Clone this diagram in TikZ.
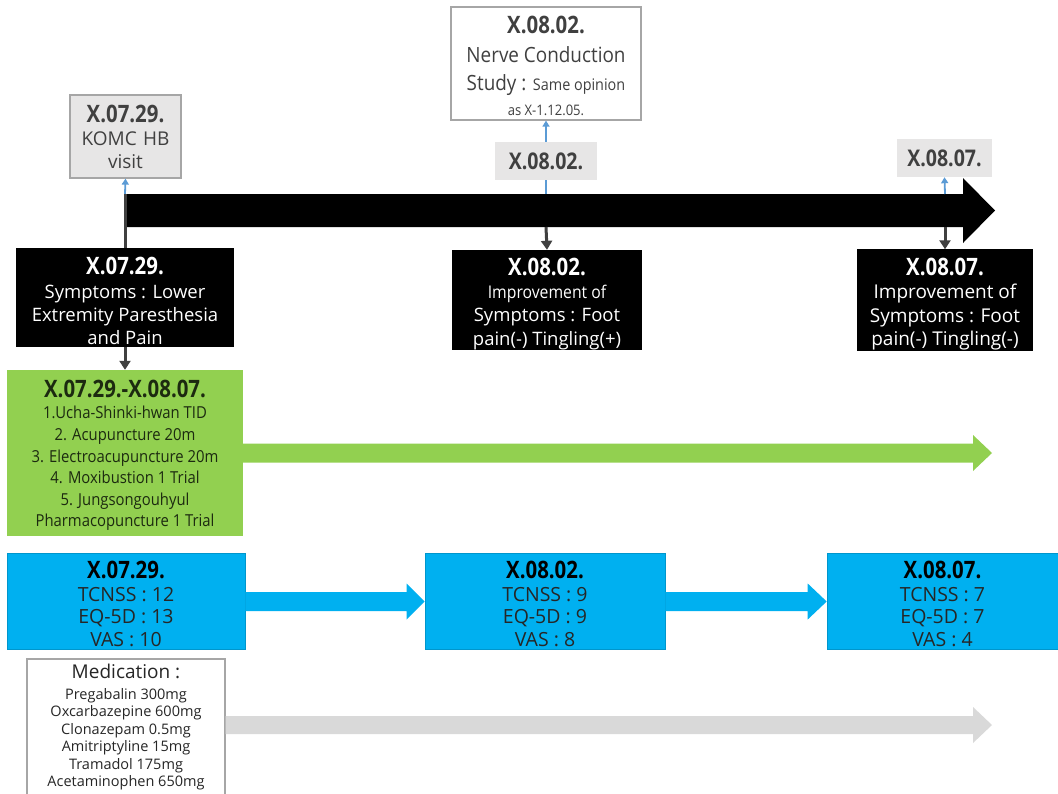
\documentclass[tikz,border=0pt]{standalone}
\usepackage{fontspec}
\setmainfont{Open Sans}
\newfontfamily\nar[FakeStretch=0.9]{Open Sans}
\newfontfamily\ttlf[FakeStretch=0.85]{Open Sans}
\usetikzlibrary{arrows.meta,calc}
\definecolor{cgreen}{HTML}{92D050}
\definecolor{cblue}{HTML}{00B0F0}
\definecolor{clabel}{HTML}{E7E6E6}
\definecolor{cborder}{HTML}{A6A6A6}
\definecolor{cdark}{HTML}{404040}
\definecolor{cthin}{HTML}{5B9BD5}
\definecolor{cgrayarrow}{HTML}{D9D9D9}
\definecolor{ctext}{HTML}{404040}
\definecolor{cbtext}{HTML}{262626}
\definecolor{cgtext}{HTML}{1C2A10}
\newcommand\ttl[2][0pt]{{\ttlf\bfseries\fontsize{24}{26}\selectfont\rule{0pt}{#1}#2}}
\begin{document}
\begin{tikzpicture}[x=1pt,y=-1pt,
  every node/.style={inner sep=0pt, align=center},
  graybox/.style={draw=cborder, fill=clabel, line width=1.2pt, text=ctext, font=\fontsize{19}{23}\selectfont},
  whitebox/.style={draw=cborder, fill=white, line width=1.2pt, text=ctext},
  blackbox/.style={fill=black, text=white, font=\fontsize{18.5}{23.3}\selectfont},
  greenbox/.style={fill=cgreen, text=cgtext, font=\nar\fontsize{16.5}{21.6}\selectfont},
  bluebox/.style={fill=cblue, draw=cblue!85!black, line width=0.6pt, text=cbtext, font=\fontsize{19.5}{22.5}\selectfont},
  labelbox/.style={fill=clabel, text=ctext},
  thinblue/.style={draw=cthin, line width=1.8pt},
  thinbluearrow/.style={thinblue, -{Triangle[length=6pt,width=7pt]}},
  darkline/.style={draw=cdark, line width=3pt},
  darkarrow/.style={darkline, -{Triangle[length=9pt,width=11pt]}}
]
\useasboundingbox (0,0) rectangle (1058,793);
\fill[white] (0,0) rectangle (1058,793);

% timeline arrow
\fill[black] (126,194) -- (963,194) -- (963,178) -- (995,210.5) -- (963,243) -- (963,227) -- (126,227) -- cycle;

% top row
\node[graybox, minimum width=111, minimum height=83] (komc) at (125.5,136.5)
  {\ttl{X.07.29.}\\KOMC\,\,HB\\visit};
\node[whitebox, minimum width=190, minimum height=113, font=\nar\fontsize{21}{28.5}\selectfont] (ncs) at (546,63.5)
  {\ttl[22pt]{X.08.02.}\\Nerve Conduction\\
   Study : {\fontsize{16}{20}\selectfont Same opinion}\\[-4pt]
   {\fontsize{14.5}{18}\selectfont as X-1.12.05.}};
\node[labelbox, minimum width=102, minimum height=38] (lbl2) at (546,161)
  {\ttlf\bfseries\fontsize{23}{24}\selectfont X.08.02.};
\node[labelbox, minimum width=95, minimum height=38] (lbl3) at (944.5,158)
  {\ttlf\bfseries\fontsize{23}{24}\selectfont X.08.07.};

% black boxes
\node[blackbox, minimum width=218, minimum height=99] (sym1) at (125,297.5)
  {\ttl[25pt]{X.07.29.}\\Symptoms : Lower\\Extremity Paresthesia\\and Pain};
\node[blackbox, minimum width=190, minimum height=100] (imp2) at (547,300)
  {\ttl[25pt]{X.08.02.}\\{\nar\fontsize{17.5}{23}\selectfont Improvement of}\\Symptoms : Foot\\pain(-) Tingling(+)};
\node[blackbox, minimum width=176, minimum height=100, font=\fontsize{19}{23.5}\selectfont] (imp3) at (945,300)
  {\ttl[26pt]{X.08.07.}\\Improvement of\\Symptoms : Foot\\pain(-) Tingling(-)};

% timeline connectors
\coordinate (t1) at (125,194);
\coordinate (t2) at (546,194);
\coordinate (t2b) at (546,227);
\coordinate (t3) at (945,194);
\coordinate (t3b) at (945,227);
\draw[thinbluearrow] (t1) -- (komc.south);
\draw[darkline] (t1) -- (sym1.north);
\draw[thinblue] (t2) -- (lbl2.south);
\draw[thinbluearrow] (lbl2.north) -- (ncs.south);
\draw[darkarrow] (t2b) -- (imp2.north);
\draw[thinbluearrow] (t3) -- (lbl3.south);
\draw[darkarrow] (t3b) -- (imp3.north);

% green treatment box
\node[greenbox, minimum width=236, minimum height=166] (green) at (125,453)
  {\ttl[22pt]{X.07.29.-X.08.07.}\\1.Ucha-Shinki-hwan TID\\2. Acupuncture 20m\\3. Electroacupuncture 20m\\4. Moxibustion 1 Trial\\5. Jungsongouhyul\\Pharmacopuncture 1 Trial};
\draw[darkarrow] (sym1.south) -- (green.north);
\fill[cgreen] ($(green.east)+(0,-9.5)$) -- (973,443.5) -- (973,435) -- (992,453) -- (973,471) -- (973,462.5) -- ($(green.east)+(0,9.5)$) -- cycle;

% blue score boxes
\node[bluebox, minimum width=238, minimum height=96] (bA) at (126,601.5)
  {\ttl[22pt]{\color{black}X.07.29.}\\TCNSS : 12\\EQ-5D : 13\\VAS : 10};
\node[bluebox, minimum width=240, minimum height=96] (bB) at (545,601.5)
  {\ttl[22pt]{\color{black}X.08.02.}\\TCNSS : 9\\EQ-5D : 9\\VAS : 8};
\node[bluebox, minimum width=231, minimum height=96] (bC) at (942.5,601.5)
  {\ttl[22pt]{\color{black}X.08.07.}\\TCNSS : 7\\EQ-5D : 7\\VAS : 4};
\fill[cblue] ($(bA.east)+(0,-9.5)$) -- ($(bB.west)+(-18,-9.5)$) -- ($(bB.west)+(-18,-18)$) -- (bB.west)
  -- ($(bB.west)+(-18,18)$) -- ($(bB.west)+(-18,9.5)$) -- ($(bA.east)+(0,9.5)$) -- cycle;
\fill[cblue] ($(bB.east)+(0,-9.5)$) -- ($(bC.west)+(-19,-9.5)$) -- ($(bC.west)+(-19,-18)$) -- (bC.west)
  -- ($(bC.west)+(-19,18)$) -- ($(bC.west)+(-19,9.5)$) -- ($(bB.east)+(0,9.5)$) -- cycle;

% medication
\node[whitebox, text=cbtext, minimum width=198, minimum height=137, font=\fontsize{14.5}{17.5}\selectfont] (med) at (126,727.5)
  {{\fontsize{19}{22}\selectfont Medication :}\\[3pt]
   Pregabalin 300mg\\Oxcarbazepine 600mg\\Clonazepam 0.5mg\\Amitriptyline 15mg\\Tramadol 175mg\\Acetaminophen 650mg};
\fill[cgrayarrow] ($(med.east)+(0,-11.5)$) -- (973,716) -- (973,707) -- (992,725) -- (973,743) -- (973,734) -- ($(med.east)+(0,6.5)$) -- cycle;
\end{tikzpicture}
\end{document}
